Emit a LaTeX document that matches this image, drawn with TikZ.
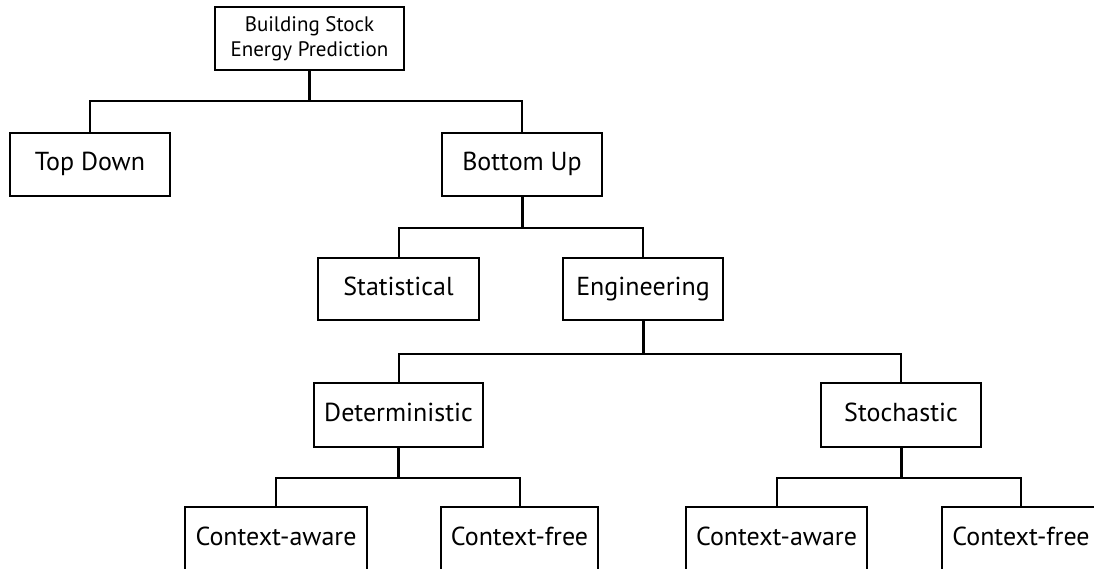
\documentclass[tikz,border=0pt]{standalone}
\usepackage{fontspec}
\setmainfont{PT Sans}
\begin{document}
\begin{tikzpicture}[x=1pt,y=-1pt,
  box/.style={draw=black, line width=2pt, fill=white, inner sep=0pt,
    font=\fontsize{26}{30}\selectfont, text height=18pt, text depth=5pt},
  link/.style={draw=black, line width=2pt},
  stem/.style={draw=black, line width=3pt}]
\useasboundingbox (0,0) rectangle (1094,569);
\clip (0,0) rectangle (1094,569);

% nodes
\node[box, minimum width=189pt, minimum height=63pt, align=center,
  font=\fontsize{21}{25}\selectfont, text height=, text depth=]
  (root) at (309.5,38.5) {Building Stock\\Energy Prediction};
\node[box, minimum width=160pt, minimum height=63pt] (td) at (90,164.5) {Top Down};
\node[box, minimum width=160pt, minimum height=63pt] (bu) at (522,164.5) {Bottom Up};
\node[box, minimum width=161pt, minimum height=62pt] (st) at (398.5,289) {Statistical};
\node[box, minimum width=160pt, minimum height=62pt] (en) at (643,289) {Engineering};
\node[box, minimum width=169pt, minimum height=64pt] (de) at (398.5,415) {Deterministic};
\node[box, minimum width=160pt, minimum height=64pt] (so) at (901,415) {Stochastic};
\node[box, minimum width=182pt, minimum height=64pt] (ca1) at (276,539) {Context-aware};
\node[box, minimum width=157pt, minimum height=64pt] (cf1) at (519.5,539) {Context-free};
\node[box, minimum width=181pt, minimum height=64pt] (ca2) at (776.5,539) {Context-aware};
\node[box, minimum width=158pt, minimum height=64pt] (cf2) at (1021,539) {Context-free};

% branching levels
\coordinate (j0) at (309.5,101);
\coordinate (j1) at (522,228);
\coordinate (j2) at (643,354);
\coordinate (j3) at (398.5,478);
\coordinate (j4) at (901,478);

% connectors
\draw[stem] (root.south) -- (j0);
\draw[link] (td.north) |- (j0) -| (bu.north);
\draw[stem] (bu.south) -- (j1);
\draw[link] (st.north) |- (j1) -| (en.north);
\draw[stem] (en.south) -- (j2);
\draw[link] (de.north) |- (j2) -| (so.north);
\draw[stem] (de.south) -- (j3);
\draw[link] (ca1.north) |- (j3) -| (cf1.north);
\draw[stem] (so.south) -- (j4);
\draw[link] (ca2.north) |- (j4) -| (cf2.north);
\end{tikzpicture}
\end{document}
